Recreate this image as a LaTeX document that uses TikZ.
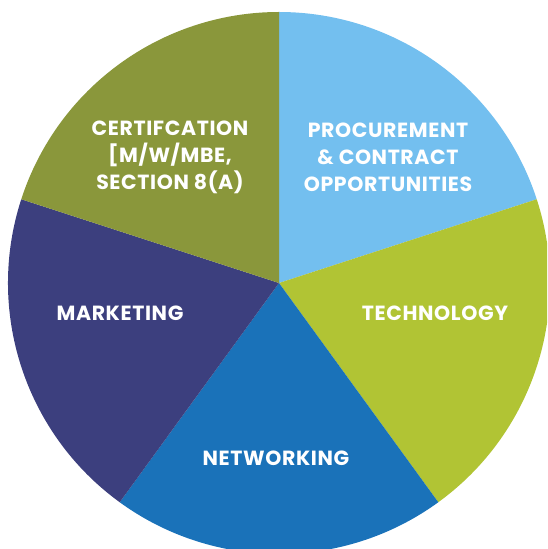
\documentclass[tikz,border=0pt]{standalone}
\usepackage{fontspec}
\setmainfont{Poppins}[LetterSpace=3]
\definecolor{cLightBlue}{HTML}{73BFEF}
\definecolor{cGreen}{HTML}{B1C434}
\definecolor{cBlue}{HTML}{1A72B9}
\definecolor{cNavy}{HTML}{3C3F7E}
\definecolor{cOlive}{HTML}{8A973B}
\begin{document}
\begin{tikzpicture}[x=1pt,y=1pt,
  lbl/.style={text=white, font=\fontsize{20.5}{27}\selectfont\bfseries, align=center, inner sep=0pt}]
\useasboundingbox (0,0) rectangle (547,549);
\clip (0,0) rectangle (547,549);
\coordinate (c) at (279,266);
\fill[cLightBlue] (c) -- ++(18:271) arc[start angle=18, end angle=90, radius=271] -- cycle;
\fill[cGreen] (c) -- ++(-54:271) arc[start angle=-54, end angle=18, radius=271] -- cycle;
\fill[cBlue] (c) -- ++(-126:271) arc[start angle=-126, end angle=-54, radius=271] -- cycle;
\fill[cNavy] (c) -- ++(162:271) arc[start angle=162, end angle=234, radius=271] -- cycle;
\fill[cOlive] (c) -- ++(90:271) arc[start angle=90, end angle=162, radius=271] -- cycle;
\node[lbl] (cert) at (170,392) {CERTIFCATION\\{[}M/W/MBE,\\SECTION 8(A)};
\node[lbl] (proc) at (388,392) {PROCUREMENT\\\& CONTRACT\\OPPORTUNITIES};
\node[lbl] (mkt) at (120,236) {MARKETING};
\node[lbl] (tech) at (435,236) {TECHNOLOGY};
\node[lbl] (net) at (276,91) {NETWORKING};
\end{tikzpicture}
\end{document}
